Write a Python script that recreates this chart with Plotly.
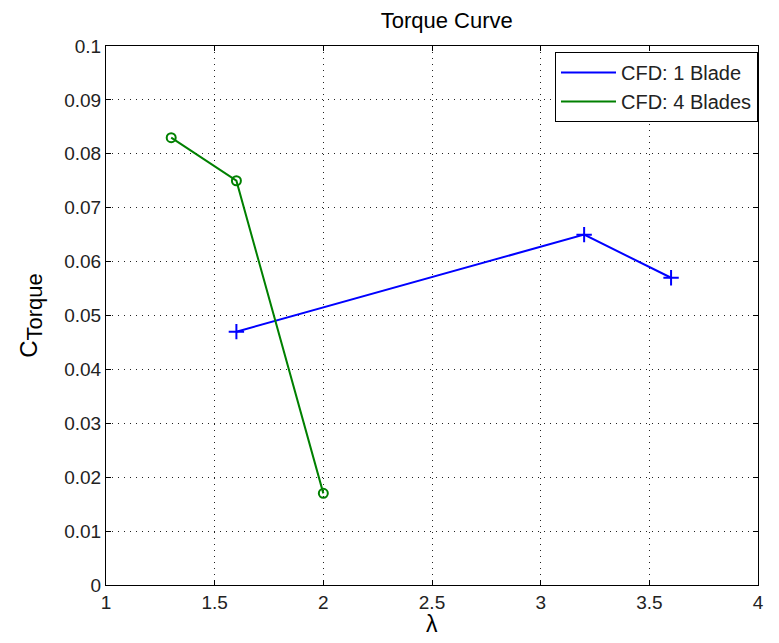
import plotly.graph_objects as go

# CFD torque coefficient vs tip speed ratio
lam_1blade = [1.6, 3.2, 3.6]
ct_1blade = [0.047, 0.065, 0.057]

lam_4blades = [1.3, 1.6, 2.0]
ct_4blades = [0.083, 0.075, 0.017]

x_ticks = [1, 1.5, 2, 2.5, 3, 3.5, 4]
x_labels = ["1", "1.5", "2", "2.5", "3", "3.5", "4"]
y_ticks = [0, 0.01, 0.02, 0.03, 0.04, 0.05, 0.06, 0.07, 0.08, 0.09, 0.1]
y_labels = ["0", "0.01", "0.02", "0.03", "0.04", "0.05", "0.06", "0.07", "0.08", "0.09", "0.1"]

blue = "#0000ff"
green = "#008000"

fig = go.Figure()
fig.add_trace(go.Scatter(
    x=lam_1blade, y=ct_1blade, mode="lines+markers", showlegend=False,
    line=dict(color=blue, width=2),
    marker=dict(symbol="cross-thin-open", size=11, line=dict(color=blue, width=2)),
))
fig.add_trace(go.Scatter(
    x=lam_4blades, y=ct_4blades, mode="lines+markers", showlegend=False,
    line=dict(color=green, width=2),
    marker=dict(symbol="circle-open", size=9, line=dict(color=green, width=2)),
))
# legend entries show line only (MATLAB style)
fig.add_trace(go.Scatter(x=[None], y=[None], mode="lines", name="CFD: 1 Blade",
                         line=dict(color=blue, width=2)))
fig.add_trace(go.Scatter(x=[None], y=[None], mode="lines", name="CFD: 4 Blades",
                         line=dict(color=green, width=2)))

axis_style = dict(
    showline=True, linecolor="black", linewidth=1, mirror="ticks",
    ticks="inside", ticklen=5, tickcolor="black",
    showgrid=True, gridcolor="#222", gridwidth=1, griddash="1px,5px",
    zeroline=False, tickfont=dict(size=19, color="#222"),
)

fig.update_layout(
    width=763, height=627,
    paper_bgcolor="white", plot_bgcolor="white",
    font=dict(family="Liberation Sans, Arial, sans-serif", color="black"),
    margin=dict(l=98, r=7, t=38, b=50),
    title=dict(text="Torque Curve", x=0.575, xanchor="center", xref="container",
               y=0.981, yanchor="middle", yref="container", font=dict(size=22)),
    xaxis=dict(range=[1, 4], tickvals=x_ticks, ticktext=x_labels, **axis_style),
    yaxis=dict(range=[0, 0.1], tickvals=y_ticks, ticktext=y_labels,
               title=dict(text="C<sub><span style='font-size:22px'>Torque</span></sub>",
                          font=dict(size=24), standoff=19), **axis_style),
    legend=dict(x=1, xanchor="right", y=0.989, yanchor="top", itemwidth=55,
                bordercolor="black", borderwidth=1, bgcolor="white",
                font=dict(size=20, color="#222"), tracegroupgap=0),
    showlegend=True,
)

# x-axis label placed below the tick labels
fig.add_annotation(text="λ", xref="paper", yref="paper", x=0.5, y=0,
                   xanchor="center", yanchor="middle", yshift=-39,
                   showarrow=False, font=dict(size=23, color="black"))

fig.write_html("out.html")
